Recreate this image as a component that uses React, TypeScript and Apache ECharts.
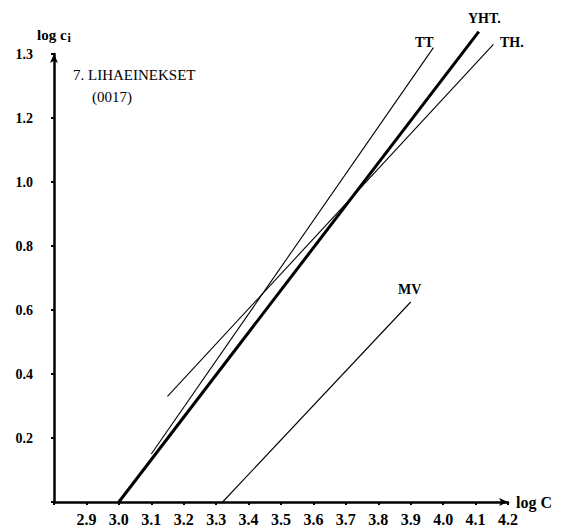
import React, { useEffect, useRef } from "react";
import * as echarts from "echarts";

// Tick labels as printed on the chart
const xTickLabels = ["2.9", "3.0", "3.1", "3.2", "3.3", "3.4", "3.5", "3.6", "3.7", "3.8", "3.9", "4.0", "4.1", "4.2"];
const yTickValues = [0.2, 0.4, 0.6, 0.8, 1.0, 1.2, 1.4];
const yTickLabels = ["0.2", "0.4", "0.6", "0.8", "1.0", "1.2", "1.3"];

// Lines: [log C, log c_i] end points
const yhtLine = [[3.0, 0], [4.11, 1.47]];
const ttLine = [[3.1, 0.15], [3.97, 1.42]];
const thLine = [[3.15, 0.33], [4.155, 1.43]];
const mvLine = [[3.32, 0], [3.9, 0.625]];

const FONT = "Liberation Serif";

export default function App() {
  const ref = useRef<HTMLDivElement>(null);
  useEffect(() => {
    if (!ref.current) return;
    const chart = echarts.init(ref.current, undefined, { renderer: "svg" });
    const lineSeries = (name: string, data: number[][], width: number) => ({
      name,
      type: "line",
      data,
      showSymbol: false,
      symbol: "none",
      clip: false,
      lineStyle: { color: "#000", width },
      z: 3,
    });
    const axisCommon = {
      axisLine: {
        show: true,
        symbol: ["none", "arrow"],
        symbolSize: [6, 9],
        lineStyle: { color: "#000", width: 2.5 },
      },
      axisTick: { show: true, length: 3, lineStyle: { color: "#000", width: 2 } },
      splitLine: { show: false },
    };
    const txt = (text: string, left: number, top: number, size: number, weight: string) => ({
      type: "text",
      left,
      top,
      style: { text, fontFamily: FONT, fontSize: size, fontWeight: weight, fill: "#000" },
    });
    chart.setOption({
      animation: false,
      backgroundColor: "#fff",
      grid: { left: 54, right: 53, top: 54, bottom: 27, containLabel: false },
      xAxis: {
        type: "value",
        min: 2.8,
        max: 4.2,
        interval: 0.1,
        ...axisCommon,
        axisLabel: {
          margin: 9,
          color: "#000",
          fontFamily: FONT,
          fontWeight: "bold",
          fontSize: 16,
          formatter: (v: number) => {
            const s = v.toFixed(1);
            return xTickLabels.includes(s) ? s : "";
          },
        },
        name: "log C",
        nameLocation: "end",
        nameGap: 8,
        nameTextStyle: {
          color: "#000",
          fontFamily: FONT,
          fontWeight: "bold",
          fontSize: 16,
          padding: [6, 0, 0, 0],
        },
      },
      yAxis: {
        type: "value",
        min: 0,
        max: 1.4,
        interval: 0.2,
        ...axisCommon,
        axisLabel: {
          margin: 21,
          color: "#000",
          fontFamily: FONT,
          fontWeight: "bold",
          fontSize: 14,
          formatter: (v: number) => {
            const i = yTickValues.findIndex((t) => Math.abs(t - v) < 1e-6);
            return i >= 0 ? yTickLabels[i] : "";
          },
        },
        name: "{a|log c}{b|i}",
        nameLocation: "end",
        nameGap: 10,
        nameTextStyle: {
          rich: {
            a: { color: "#000", fontFamily: FONT, fontWeight: "bold", fontSize: 15, lineHeight: 18, verticalAlign: "middle" },
            b: { color: "#000", fontFamily: FONT, fontWeight: "bold", fontSize: 12, lineHeight: 18, verticalAlign: "bottom", padding: [6, 0, 0, 1] },
          },
        },
      },
      graphic: [
        txt("7. LIHAEINEKSET", 73, 67, 15, "normal"),
        txt("(0017)", 92, 89, 15, "normal"),
        txt("TT", 415, 35, 14, "bold"),
        txt("YHT.", 468, 11, 14, "bold"),
        txt("TH.", 500, 35, 14, "bold"),
        txt("MV", 398, 282, 14, "bold"),
      ],
      series: [
        lineSeries("YHT.", yhtLine, 3),
        lineSeries("TT", ttLine, 1.1),
        lineSeries("TH.", thLine, 1.1),
        lineSeries("MV", mvLine, 1.1),
      ],
    });
    return () => chart.dispose();
  }, []);
  return (
    <div
      ref={ref}
      style={{ position: "fixed", left: 0, top: 0, width: 561, height: 529, background: "#fff" }}
    />
  );
}
